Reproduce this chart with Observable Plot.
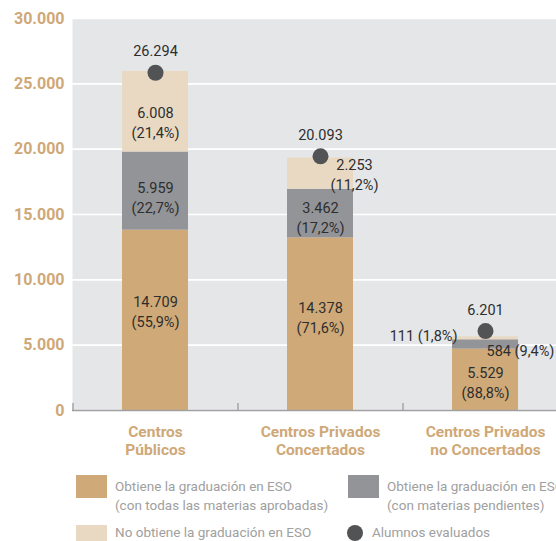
<!DOCTYPE html>
<html><head><meta charset="utf-8">
<script src="https://cdn.jsdelivr.net/npm/d3@7"></script>
<script src="https://cdn.jsdelivr.net/npm/@observablehq/plot@0.6"></script>
<style>
body{margin:0;background:#fff;font-family:Roboto,"Liberation Sans",sans-serif;}
#wrap{position:relative;width:556px;height:541px;overflow:hidden;}
#chart svg{display:block;overflow:visible;}
.sw{position:absolute;}
.lt{position:absolute;color:#a0a0a0;font-size:13.5px;line-height:19px;white-space:nowrap;}
</style></head><body>
<div id="wrap"><div id="chart"></div><div id="legend"></div></div>
<script>
// ---- data ----
const categories = ["Centros Públicos", "Centros Privados Concertados", "Centros Privados no Concertados"];
const categoryLabels = ["Centros\nPúblicos", "Centros Privados\nConcertados", "Centros Privados\nno Concertados"];
const series = ["Obtiene la graduación en ESO (con todas las materias aprobadas)",
                "Obtiene la graduación en ESO (con materias pendientes)",
                "No obtiene la graduación en ESO"];
// bar segment heights as drawn in the picture
const conTodas   = [13800, 13210, 4700];
const pendientes = [5980, 3720, 710];
const noObtiene  = [6170, 2390, 230];
// printed values and percentages
const conTodasLabel   = [14709, 14378, 5529];
const conTodasPct     = [55.9, 71.6, 88.8];
const pendientesLabel = [5959, 3462, 584];
const pendientesPct   = [22.7, 17.2, 9.4];
const noObtieneLabel  = [6008, 2253, 111];
const noObtienePct    = [21.4, 11.2, 1.8];
// alumnos evaluados (dot as drawn, printed total)
const evaluadosDot   = [25850, 19450, 6080];
const evaluadosLabel = [26294, 20093, 6201];
const yTicks = [0, 5000, 10000, 15000, 20000, 25000, 30000];

// ---- styles ----
const colors = ["#cfaa78", "#939497", "#e9d9c3"];
const tan = "#cfa877";
const bg = "#e5e6e8";
const dark = "#525355";
const txt = "#2e2e2e";
const font = 'Roboto,"Liberation Sans",sans-serif';

const loc = d3.formatLocale({decimal: ",", thousands: ".", grouping: [3], currency: ["", ""]});
const fmt = loc.format(",");
const pct = v => "(" + loc.format(",.1f")(v) + "%)";

const segVals = [conTodas, pendientes, noObtiene];
const segLab = [conTodasLabel, pendientesLabel, noObtieneLabel];
const segPct = [conTodasPct, pendientesPct, noObtienePct];

const rows = [];
categories.forEach((c, i) => {
  let base = 0;
  series.forEach((s, k) => {
    const v = segVals[k][i];
    rows.push({cat: c, serie: s, k, i, y1: base, y2: base + v,
      num: fmt(segLab[k][i]), pc: pct(segPct[k][i])});
    base += v;
  });
});
const dots = categories.map((c, i) => ({cat: c, value: evaluadosDot[i], label: fmt(evaluadosLabel[i])}));

// label placement: [k][i] -> {dx, dy, anchor, one-line}
const place = [
  [{dx: 0, dy: -9.5}, {dx: 0, dy: -7.5}, {dx: 0, dy: 2}],
  [{dx: 0, dy: 5.5}, {dx: 0, dy: 3.5}, {dx: 1, dy: 5.5, anchor: "start", one: true}],
  [{dx: 0, dy: 9.5}, {dx: 34, dy: 0}, {dx: -28, dy: -4, anchor: "end", one: true}]
];

const labelMarks = rows.map(r => {
  const p = place[r.k][r.i];
  return Plot.text([r], {
    x: "cat", y: d => (d.y1 + d.y2) / 2,
    text: d => p.one ? d.num + " " + d.pc : d.num + "\n" + d.pc,
    dx: p.dx, dy: p.dy, textAnchor: p.anchor || "middle",
    fontSize: 14.5, lineHeight: 1.38, fill: txt
  });
});

const chart = Plot.plot({
  width: 556,
  height: 460,
  marginTop: 18,
  marginBottom: 50,
  marginLeft: 72,
  marginRight: 0,
  style: {fontFamily: font, background: "transparent"},
  x: {domain: categories, range: [72, 567], paddingInner: 0.6, paddingOuter: 0.3, axis: null},
  y: {domain: [0, 30000], axis: null},
  color: {domain: series, range: colors},
  marks: [
    Plot.frame({fill: bg, stroke: "none"}),
    Plot.gridY(yTicks, {stroke: "#ffffff", strokeOpacity: 1, strokeWidth: 1.6}),
    Plot.barY(rows, {x: "cat", y1: "y1", y2: "y2", fill: "serie"}),
    Plot.ruleY([0], {stroke: "#a0a0a2", strokeWidth: 1.6}),
    Plot.axisX({tickSize: -7, dx: -82.5, tickFormat: () => "", stroke: "#a0a0a2", strokeWidth: 1.4, label: null}),
    Plot.dot(dots, {x: "cat", y: "value", r: 8, fill: dark, stroke: "none"}),
    Plot.text(dots, {x: "cat", y: "value", text: "label", dy: -21, fontSize: 14.5, fill: txt}),
    ...labelMarks,
    Plot.axisY({ticks: yTicks, tickFormat: fmt, tickSize: 0, tickPadding: 8, fontSize: 16, fontWeight: "bold", color: tan, label: null}),
    Plot.axisX({tickSize: 0, tickPadding: 14, tickFormat: d => categoryLabels[categories.indexOf(d)], fontSize: 15.5, fontWeight: "bold", color: tan, lineHeight: 1.16, label: null})
  ]
});
document.getElementById("chart").appendChild(chart);

// ---- legend (HTML, below the SVG) ----
const legend = document.getElementById("legend");
function add(html) { legend.insertAdjacentHTML("beforeend", html); }
add(`<div class="sw" style="left:76px;top:475px;width:31px;height:23px;background:${colors[0]}"></div>`);
add(`<div class="lt" style="left:115px;top:477px">Obtiene la graduación en ESO<br>(con todas las materias aprobadas)</div>`);
add(`<div class="sw" style="left:348px;top:475px;width:31px;height:23px;background:${colors[1]}"></div>`);
add(`<div class="lt" style="left:387px;top:477px">Obtiene la graduación en ESO<br>(con materias pendientes)</div>`);
add(`<div class="sw" style="left:76px;top:525px;width:31px;height:23px;background:${colors[2]}"></div>`);
add(`<div class="lt" style="left:115px;top:523px">No obtiene la graduación en ESO</div>`);
add(`<div class="sw" style="left:347px;top:525px;width:16px;height:16px;border-radius:50%;background:${dark}"></div>`);
add(`<div class="lt" style="left:372px;top:523px">Alumnos evaluados</div>`);
</script>
</body></html>
